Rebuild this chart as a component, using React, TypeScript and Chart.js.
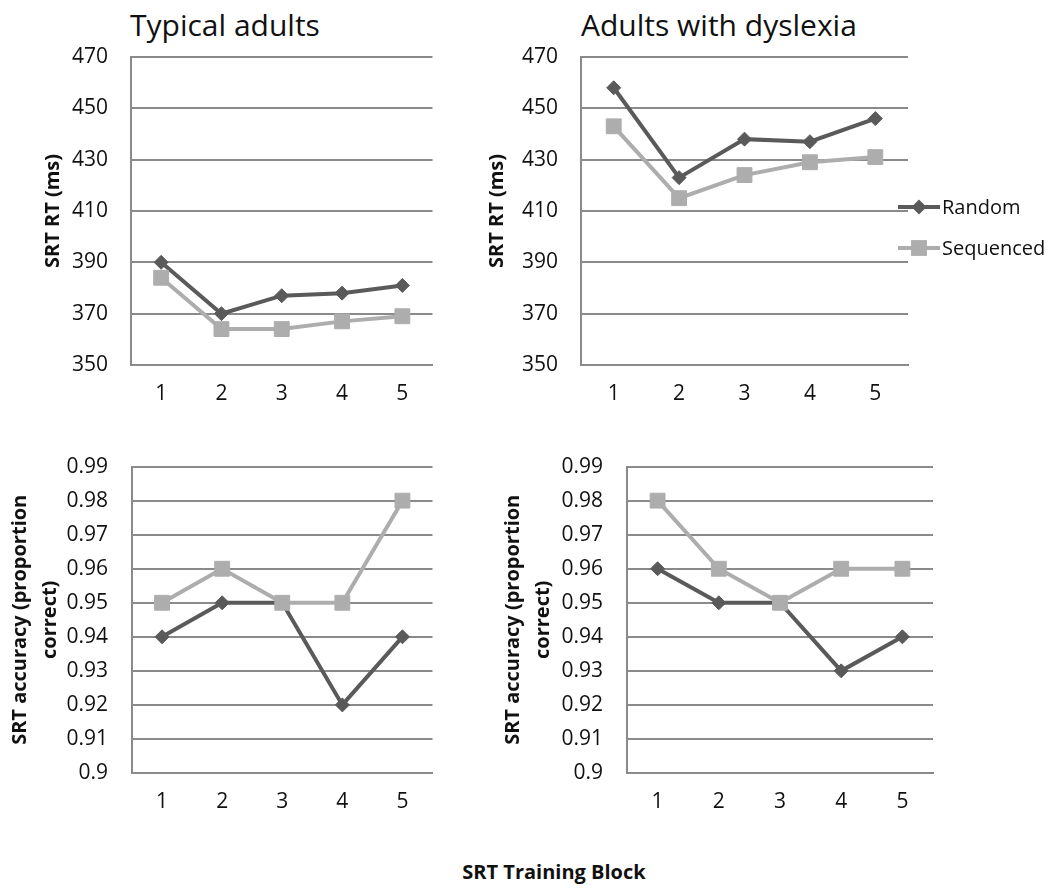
import React, { useEffect, useRef } from "react";
import { Chart, registerables } from "chart.js";

Chart.register(...registerables);

// ---------- data ----------
const blocks = ["1", "2", "3", "4", "5"];
const seriesNames = ["Random", "Sequenced"];

const typicalRtRandom = [390, 370, 377, 378, 381];
const typicalRtSequenced = [384, 364, 364, 367, 369];
const dyslexiaRtRandom = [458, 423, 438, 437, 446];
const dyslexiaRtSequenced = [443, 415, 424, 429, 431];

const typicalAccRandom = [0.94, 0.95, 0.95, 0.92, 0.94];
const typicalAccSequenced = [0.95, 0.96, 0.95, 0.95, 0.98];
const dyslexiaAccRandom = [0.96, 0.95, 0.95, 0.93, 0.94];
const dyslexiaAccSequenced = [0.98, 0.96, 0.95, 0.96, 0.96];

const rtTicks = [350, 370, 390, 410, 430, 450, 470];
const accTicks = [0.9, 0.91, 0.92, 0.93, 0.94, 0.95, 0.96, 0.97, 0.98, 0.99];

const panelTitles = ["Typical adults", "Adults with dyslexia"];
const rtAxisTitle = "SRT RT (ms)";
const accAxisTitle = ["SRT accuracy (proportion", "correct)"];
const xAxisTitle = "SRT Training Block";

// ---------- style ----------
const FONT = "'Open Sans', 'DejaVu Sans', sans-serif";
const DARK = "#5a5a5a";
const LIGHT = "#adadad";
const GRID = "#8a8a8a";
const TEXT = "#111111";

type PanelProps = {
  left: number;
  top: number;
  width: number;
  height: number;
  padTop: number;
  padRight: number;
  yWidth: number;
  xHeight: number;
  random: number[];
  sequenced: number[];
  ticks: number[];
  yTitle: string | string[];
  titlePad: number;
  tickPad: number;
  legend?: boolean;
  legendX?: number;
  legendYs?: number[];
};

function Panel(p: PanelProps) {
  const ref = useRef<HTMLCanvasElement | null>(null);

  useEffect(() => {
    if (!ref.current) return;
    const tickMin = p.ticks[0];
    const tickMax = p.ticks[p.ticks.length - 1];
    const step = p.ticks[1] - p.ticks[0];

    const legendPlugin = {
      id: "sideLegend",
      afterDraw(chart: any) {
        if (!p.legend) return;
        const ctx = chart.ctx;
        const ds = chart.data.datasets;
        const order = [1, 0]; // Random first
        order.forEach((di, i) => {
          const d = ds[di];
          const y = p.legendYs![i];
          const x0 = p.legendX!;
          const x1 = x0 + 42;
          const cx = (x0 + x1) / 2;
          ctx.save();
          ctx.strokeStyle = d.borderColor;
          ctx.lineWidth = d.borderWidth;
          ctx.beginPath();
          ctx.moveTo(x0, y);
          ctx.lineTo(x1, y);
          ctx.stroke();
          ctx.fillStyle = d.pointBackgroundColor;
          ctx.beginPath();
          if (d.pointStyle === "rectRot") {
            const r = d.pointRadius + 0.5;
            ctx.moveTo(cx - r, y);
            ctx.lineTo(cx, y - r);
            ctx.lineTo(cx + r, y);
            ctx.lineTo(cx, y + r);
            ctx.closePath();
          } else {
            const s = d.pointRadius * Math.SQRT1_2 + 0.5;
            ctx.rect(cx - s, y - s, 2 * s, 2 * s);
          }
          ctx.fill();
          ctx.fillStyle = TEXT;
          ctx.font = `20px ${FONT}`;
          ctx.textAlign = "left";
          ctx.textBaseline = "middle";
          ctx.fillText(d.label, x1 + 2, y + 1);
          ctx.restore();
        });
      },
    };

    const chart = new Chart(ref.current, {
      type: "line",
      data: {
        labels: blocks,
        datasets: [
          {
            label: seriesNames[1],
            data: p.sequenced,
            borderColor: LIGHT,
            backgroundColor: LIGHT,
            pointBackgroundColor: LIGHT,
            pointBorderColor: LIGHT,
            borderWidth: 4,
            pointStyle: "rect",
            pointRadius: 10.5,
            pointBorderWidth: 1,
            order: 0,
          } as any,
          {
            label: seriesNames[0],
            data: p.random,
            borderColor: DARK,
            backgroundColor: DARK,
            pointBackgroundColor: DARK,
            pointBorderColor: DARK,
            borderWidth: 4,
            pointStyle: "rectRot",
            pointRadius: 7,
            pointBorderWidth: 1,
            order: 1,
          } as any,
        ],
      },
      options: {
        responsive: false,
        animation: false,
        events: [],
        layout: { padding: { top: p.padTop, right: p.padRight, left: 0, bottom: 0 } },
        plugins: {
          legend: { display: false },
          title: { display: false },
          tooltip: { enabled: false },
        },
        scales: {
          x: {
            type: "category",
            offset: true,
            grid: { display: false, drawTicks: false },
            border: { display: true, color: GRID, width: 2 },
            ticks: {
              color: TEXT,
              font: { family: FONT, size: 21 },
              padding: 16,
            },
            afterFit: (s: any) => {
              s.height = p.xHeight;
            },
          },
          y: {
            type: "linear",
            min: tickMin,
            max: tickMax,
            grid: { color: GRID, lineWidth: 2, drawTicks: false },
            border: { display: true, color: GRID, width: 2 },
            ticks: {
              stepSize: step,
              color: TEXT,
              font: { family: FONT, size: 21 },
              padding: p.tickPad,
              callback: (v: any) => String(Number(Number(v).toFixed(2))),
            },
            title: {
              display: true,
              text: p.yTitle,
              color: TEXT,
              font: { family: FONT, size: 20, weight: "bold", lineHeight: 1.5 },
              padding: { top: p.titlePad, bottom: 0 },
            },
            afterFit: (s: any) => {
              s.width = p.yWidth;
            },
          },
        },
      },
      plugins: [legendPlugin],
    });
    return () => chart.destroy();
  }, []);

  return (
    <canvas
      ref={ref}
      width={p.width}
      height={p.height}
      style={{ position: "absolute", left: p.left, top: p.top, width: p.width, height: p.height }}
    />
  );
}

export default function App() {
  const titleStyle: React.CSSProperties = {
    position: "absolute",
    fontFamily: FONT,
    fontSize: 30,
    lineHeight: "30px",
    color: TEXT,
    whiteSpace: "nowrap",
  };
  return (
    <div
      style={{
        position: "absolute",
        left: 0,
        top: 0,
        width: 1060,
        height: 889,
        background: "#ffffff",
        overflow: "hidden",
      }}
    >
      <div style={{ ...titleStyle, left: 130, top: 10 }}>{panelTitles[0]}</div>
      <div style={{ ...titleStyle, left: 581, top: 10 }}>{panelTitles[1]}</div>

      {/* Top-left: typical RT */}
      <Panel
        left={0}
        top={0}
        width={444}
        height={425}
        padTop={57}
        padRight={10}
        yWidth={131}
        xHeight={60}
        random={typicalRtRandom}
        sequenced={typicalRtSequenced}
        ticks={rtTicks}
        yTitle={rtAxisTitle}
        titlePad={38}
        tickPad={23}
      />
      {/* Top-right: dyslexia RT */}
      <Panel
        left={450}
        top={0}
        width={610}
        height={425}
        padTop={57}
        padRight={152}
        yWidth={131}
        xHeight={60}
        random={dyslexiaRtRandom}
        sequenced={dyslexiaRtSequenced}
        ticks={rtTicks}
        yTitle={rtAxisTitle}
        titlePad={32}
        tickPad={23}
        legend
        legendX={448}
        legendYs={[207, 248]}
      />
      {/* Bottom-left: typical accuracy */}
      <Panel
        left={0}
        top={430}
        width={444}
        height={403}
        padTop={36}
        padRight={10}
        yWidth={132}
        xHeight={60}
        random={typicalAccRandom}
        sequenced={typicalAccSequenced}
        ticks={accTicks}
        yTitle={accAxisTitle}
        titlePad={5}
        tickPad={24}
      />
      {/* Bottom-right: dyslexia accuracy */}
      <Panel
        left={480}
        top={430}
        width={480}
        height={403}
        padTop={35}
        padRight={27}
        yWidth={147}
        xHeight={60}
        random={dyslexiaAccRandom}
        sequenced={dyslexiaAccSequenced}
        ticks={accTicks}
        yTitle={accAxisTitle}
        titlePad={18}
        tickPad={24}
      />

      <div
        style={{
          position: "absolute",
          left: 354,
          width: 400,
          top: 862,
          textAlign: "center",
          fontFamily: FONT,
          fontSize: 20,
          fontWeight: "bold",
          lineHeight: "20px",
          color: TEXT,
          whiteSpace: "nowrap",
        }}
      >
        {xAxisTitle}
      </div>
    </div>
  );
}
